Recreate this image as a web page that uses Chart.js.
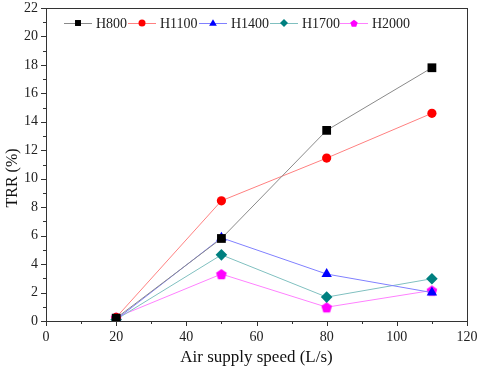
<!DOCTYPE html>
<html><head><meta charset="utf-8">
<script src="https://cdn.jsdelivr.net/npm/chart.js@4/dist/chart.umd.min.js"></script>
<style>html,body{margin:0;padding:0;background:#fff}#wrap{width:480px;height:372px}</style>
</head><body><div id="wrap"><canvas id="c" width="480" height="372"></canvas></div>
<script>
const speeds = [20, 50, 80, 110];
const H800 = [0.2, 5.8, 13.4, 17.8];
const H1100 = [0.25, 8.45, 11.45, 14.6];
const H1400 = [0.1, 5.85, 3.3, 2.0];
const H1700 = [0.1, 4.65, 1.68, 2.97];
const H2000 = [0.25, 3.3, 0.97, 2.15];
const seriesNames = ['H800', 'H1100', 'H1400', 'H1700', 'H2000'];
const xTicks = [0, 20, 40, 60, 80, 100, 120];
const yTicks = [0, 2, 4, 6, 8, 10, 12, 14, 16, 18, 20, 22];
const yTitle = 'TRR (%)';
const xTitle = 'Air supply speed (L/s)';

const FONT = "'Liberation Serif', 'Times New Roman', serif";

function pentagonPath(ctx, cx, cy, r) {
  ctx.beginPath();
  for (let i = 0; i < 5; i++) {
    const a = -Math.PI / 2 + i * 2 * Math.PI / 5;
    const x = cx + r * Math.cos(a), y = cy + r * Math.sin(a);
    if (i === 0) ctx.moveTo(x, y); else ctx.lineTo(x, y);
  }
  ctx.closePath();
}
function makePentagon(r, color) {
  const cv = document.createElement('canvas');
  const s = Math.ceil(r * 2 + 2);
  cv.width = s; cv.height = s;
  const ctx = cv.getContext('2d');
  ctx.fillStyle = color;
  pentagonPath(ctx, s / 2, s / 2 + 0.6, r);
  ctx.fill();
  return cv;
}
const pent = makePentagon(5.6, '#ff00ff');

const markerColors = ['#000000', '#ff0000', '#0000ff', '#008080', '#ff00ff'];
const lineColors = ['#8a8a8a', '#ff8080', '#8080ff', '#80c0c0', '#ff80ff'];
const styles = ['rect', 'circle', 'triangle', 'rectRot', pent];
const radii = [6.2, 4.6, 6, 5.8, 6];
const allData = [H800, H1100, H1400, H1700, H2000];

const datasets = allData.map((d, i) => ({
  label: seriesNames[i],
  data: d.map((v, j) => ({ x: speeds[j], y: v })),
  borderColor: lineColors[i],
  backgroundColor: markerColors[i],
  pointBackgroundColor: markerColors[i],
  pointBorderColor: markerColors[i],
  pointBorderWidth: 0,
  borderWidth: 1,
  pointStyle: styles[i],
  pointRadius: radii[i],
  pointHoverRadius: radii[i],
  tension: 0
}));

function drawMarker(ctx, i, x, y, r) {
  ctx.save();
  ctx.fillStyle = markerColors[i];
  if (i === 0) { ctx.fillRect(x - r * 0.85, y - r * 0.85, 1.7 * r, 1.7 * r); }
  else if (i === 1) { ctx.beginPath(); ctx.arc(x, y, r, 0, 2 * Math.PI); ctx.fill(); }
  else if (i === 2) {
    ctx.beginPath(); ctx.moveTo(x, y - r * 1.1); ctx.lineTo(x + r * 1.1, y + r * 0.8); ctx.lineTo(x - r * 1.1, y + r * 0.8); ctx.closePath(); ctx.fill();
  } else if (i === 3) {
    ctx.beginPath(); ctx.moveTo(x, y - r * 1.15); ctx.lineTo(x + r * 1.15, y); ctx.lineTo(x, y + r * 1.15); ctx.lineTo(x - r * 1.15, y); ctx.closePath(); ctx.fill();
  } else { pentagonPath(ctx, x, y + 0.6, r * 1.1); ctx.fill(); }
  ctx.restore();
}

const framePlugin = {
  id: 'frame',
  afterDraw(chart) {
    const ctx = chart.ctx, a = chart.chartArea;
    const xs = chart.scales.x, ys = chart.scales.y;
    ctx.save();
    ctx.strokeStyle = '#333';
    ctx.lineWidth = 1;
    ctx.strokeRect(Math.round(a.left) + 0.5, Math.round(a.top) + 0.5, Math.round(a.right - a.left), Math.round(a.bottom - a.top));
    for (let v = 0; v <= 120; v += 10) {
      const px = Math.round(xs.getPixelForValue(v)) + 0.5;
      const len = (v % 20 === 0) ? 5 : 3;
      ctx.beginPath(); ctx.moveTo(px, a.bottom); ctx.lineTo(px, a.bottom + len); ctx.stroke();
    }
    for (let v = 0; v <= 22; v += 1) {
      const py = Math.round(ys.getPixelForValue(v)) + 0.5;
      const len = (v % 2 === 0) ? 5 : 3;
      ctx.beginPath(); ctx.moveTo(a.left, py); ctx.lineTo(a.left - len, py); ctx.stroke();
    }
    // y axis title
    ctx.save();
    ctx.translate(13, 178);
    ctx.rotate(-Math.PI / 2);
    ctx.font = '16px ' + FONT;
    ctx.fillStyle = '#111';
    ctx.textAlign = 'center';
    ctx.textBaseline = 'middle';
    ctx.fillText(yTitle, 0, 0);
    ctx.restore();
    // legend
    ctx.font = '14px ' + FONT;
    ctx.textBaseline = 'middle';
    const ly = 23;
    const starts = [64, 128, 199, 270, 340];
    seriesNames.forEach((n, i) => {
      const x0 = starts[i];
      ctx.strokeStyle = lineColors[i];
      ctx.lineWidth = 1;
      ctx.beginPath(); ctx.moveTo(x0, ly + 0.5); ctx.lineTo(x0 + 28, ly + 0.5); ctx.stroke();
      drawMarker(ctx, i, x0 + 14, ly, 3.5);
      ctx.fillStyle = '#222';
      ctx.fillText(n, x0 + 32, ly + 1);
    });
    ctx.restore();
  }
};

new Chart(document.getElementById('c'), {
  type: 'line',
  data: { datasets },
  plugins: [framePlugin],
  options: {
    responsive: false,
    animation: false,
    devicePixelRatio: 1,
    layout: { padding: { top: 8, right: 13, left: 0, bottom: 0 } },
    plugins: { legend: { display: false }, tooltip: { enabled: false } },
    scales: {
      x: {
        type: 'linear', min: 0, max: 120,
        afterBuildTicks: s => { s.ticks = xTicks.map(v => ({ value: v })); },
        grid: { display: false, drawTicks: false },
        border: { display: false },
        ticks: { color: '#222', font: { family: FONT, size: 14 }, padding: 8, maxRotation: 0 },
        title: { display: true, text: xTitle, color: '#111', font: { family: FONT, size: 17 }, padding: { top: 0, bottom: 4 } },
        afterFit: s => { s.height = 51; s.paddingLeft = 0; s.paddingRight = 0; }
      },
      y: {
        type: 'linear', min: 0, max: 22,
        afterBuildTicks: s => { s.ticks = yTicks.map(v => ({ value: v })); },
        grid: { display: false, drawTicks: false },
        border: { display: false },
        ticks: { color: '#222', font: { family: FONT, size: 14 }, padding: 8 },
        title: { display: false },
        afterFit: s => { s.width = 46; s.paddingTop = 0; s.paddingBottom = 0; }
      }
    }
  }
});
</script></body></html>
